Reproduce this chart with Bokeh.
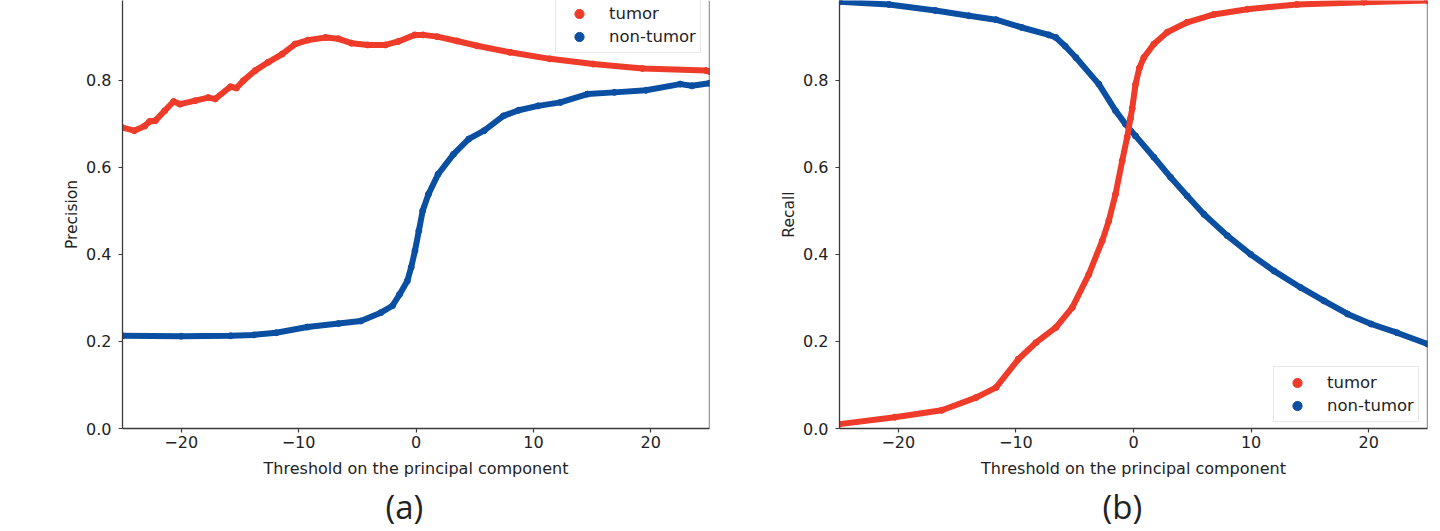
from bokeh.plotting import figure
from bokeh.layouts import row
from bokeh.models import Range1d, FixedTicker, PrintfTickFormatter, Span, Title, Legend, LegendItem
from bokeh.embed import file_html
from bokeh.resources import INLINE

# ---------------- data ----------------
series_names = ["tumor", "non-tumor"]
x_ticks = [-20, -10, 0, 10, 20]
x_tick_labels = ["\u221220", "\u221210", "0", "10", "20"]
y_ticks = [0.0, 0.2, 0.4, 0.6, 0.8]

# (a) precision
prec_tumor_x = [-25.0, -24.0, -23.1, -22.7, -22.2, -21.4, -20.65, -20.1, -18.8, -17.7, -17.1, -15.8,
                -15.3, -14.7, -13.7, -12.6, -11.4, -10.3, -9.2, -7.7, -6.6, -5.5, -4.1, -2.6, -1.5,
                -0.1, 0.6, 1.8, 3.5, 5.2, 8.0, 11.4, 15.1, 19.3, 24.7, 25.0]
prec_tumor_y = [0.691, 0.684, 0.695, 0.705, 0.707, 0.730, 0.751, 0.745, 0.753, 0.760, 0.757, 0.785,
                0.782, 0.799, 0.822, 0.841, 0.860, 0.883, 0.892, 0.898, 0.895, 0.885, 0.881, 0.881, 0.889,
                0.904, 0.904, 0.900, 0.890, 0.879, 0.864, 0.849, 0.837, 0.827, 0.822, 0.820]

prec_nontumor_x = [-25.0, -20.0, -15.8, -13.8, -11.9, -9.25, -6.6, -4.7, -3.0, -2.0, -1.4, -0.74, -0.41,
                   -0.09, 0.24, 0.57, 1.06, 1.88, 3.2, 4.5, 5.8, 7.45, 8.75, 10.4, 12.3, 14.6, 16.9, 19.6,
                   22.5, 23.5, 25.0]
prec_nontumor_y = [0.213, 0.212, 0.213, 0.215, 0.220, 0.233, 0.241, 0.247, 0.266, 0.282, 0.308, 0.339, 0.370,
                   0.408, 0.454, 0.500, 0.538, 0.584, 0.630, 0.665, 0.684, 0.718, 0.731, 0.741, 0.749, 0.768,
                   0.772, 0.777, 0.791, 0.787, 0.793]

# (b) recall
rec_tumor_x = [-25.0, -20.3, -16.3, -13.4, -11.7, -9.8, -8.3, -6.6, -5.2, -3.8, -2.66, -2.1, -1.53, -0.96,
               -0.54, -0.26, -0.11, 0.17, 0.5, 0.88, 1.73, 2.87, 4.57, 6.83, 9.68, 13.9, 19.6, 25.0]
rec_tumor_y = [0.010, 0.026, 0.042, 0.071, 0.094, 0.159, 0.197, 0.232, 0.278, 0.354, 0.431, 0.477, 0.538,
               0.615, 0.669, 0.712, 0.735, 0.790, 0.828, 0.852, 0.883, 0.910, 0.933, 0.951, 0.963, 0.974,
               0.979, 0.983]

rec_nontumor_x = [-25.0, -20.8, -16.85, -14.0, -11.7, -9.5, -7.2, -6.6, -5.8, -4.9, -2.95, -1.53, -0.68, 0.17,
                  1.73, 3.15, 4.57, 5.99, 7.97, 9.96, 11.94, 14.2, 16.2, 18.2, 20.2, 22.4, 25.0]
rec_nontumor_y = [0.980, 0.974, 0.960, 0.948, 0.939, 0.921, 0.904, 0.898, 0.878, 0.852, 0.791, 0.730, 0.699,
                  0.672, 0.623, 0.577, 0.534, 0.492, 0.443, 0.400, 0.362, 0.324, 0.293, 0.263, 0.240, 0.220,
                  0.194]

# ---------------- style ----------------
RED = "#ee3b2a"
BLUE = "#0b4fa2"
AXC = "#3a3a3a"
TXT = "#222222"
FONT = "DejaVu Sans"
H = 531
FRAME_H = 428
YTOP = 0.983


def panel(ylabel, tx, ty, nx, ny, fig_w, bl, br, leg_xy, caption, cap_off):
    p = figure(width=fig_w, height=H, output_backend="svg", toolbar_location=None,
               x_range=Range1d(-25, 25), y_range=Range1d(0, YTOP),
               min_border_left=bl, min_border_right=br, min_border_top=0,
               min_border_bottom=H - FRAME_H)
    p.grid.visible = False
    p.outline_line_color = None

    # non-tumor first, tumor drawn on top
    p.line(nx, ny, color=BLUE, line_width=6, line_cap="round", line_join="round")
    rb = p.scatter(nx, ny, size=6, color=BLUE)
    p.line(tx, ty, color=RED, line_width=6, line_cap="round", line_join="round")
    ra = p.scatter(tx, ty, size=6, color=RED)

    p.add_layout(Span(location=25, dimension="height", line_color=AXC, line_width=1.3))

    p.xaxis.ticker = FixedTicker(ticks=x_ticks)
    p.xaxis.major_label_overrides = {t: l for t, l in zip(x_ticks, x_tick_labels)}
    p.yaxis.ticker = FixedTicker(ticks=y_ticks)
    p.yaxis.formatter = PrintfTickFormatter(format="%.1f")
    p.xaxis.axis_label = "Threshold on the principal component"
    p.yaxis.axis_label = ylabel
    for ax in (p.xaxis[0], p.yaxis[0]):
        ax.axis_line_color = AXC
        ax.axis_line_width = 1.3
        ax.major_tick_line_color = AXC
        ax.major_tick_line_width = 1.2
        ax.major_tick_out = 4
        ax.major_tick_in = 0
        ax.minor_tick_line_color = None
        ax.major_label_text_font = FONT
        ax.major_label_text_font_size = "16px"
        ax.major_label_text_color = TXT
        ax.axis_label_text_font = FONT
        ax.axis_label_text_font_style = "normal"
        ax.axis_label_text_color = TXT
    p.xaxis.major_label_standoff = 3
    p.xaxis.axis_label_standoff = 8
    p.xaxis.axis_label_text_font_size = "16px"
    p.yaxis.major_label_standoff = 7
    p.yaxis.axis_label_standoff = 2
    p.yaxis.axis_label_text_font_size = "15.5px"

    leg = Legend(items=[LegendItem(label=series_names[0], renderers=[ra]),
                        LegendItem(label=series_names[1], renderers=[rb])],
                 location=leg_xy, padding=4, margin=0, spacing=0,
                 glyph_width=38, glyph_height=23, label_height=23, label_standoff=11,
                 label_text_font=FONT, label_text_font_size="16.5px", label_text_color=TXT,
                 border_line_color="#d2d2d2", border_line_width=1,
                 background_fill_color="white", background_fill_alpha=0.85)
    p.add_layout(leg)

    p.add_layout(Title(text=caption, align="left", offset=cap_off, standoff=2,
                       text_font="Open Sans", text_font_size="33px", text_font_style="normal",
                       text_color=TXT), "below")
    return p


pa = panel("Precision", prec_tumor_x, prec_tumor_y, prec_nontumor_x, prec_nontumor_y,
           726, 122, 17, (433, 375), "(a)", 263)
pb = panel("Recall", rec_tumor_x, rec_tumor_y, rec_nontumor_x, rec_nontumor_y,
           714, 113, 13, (434, 6), "(b)", 263)

layout = row(pa, pb)
open("out.html", "w").write(file_html(layout, INLINE))
